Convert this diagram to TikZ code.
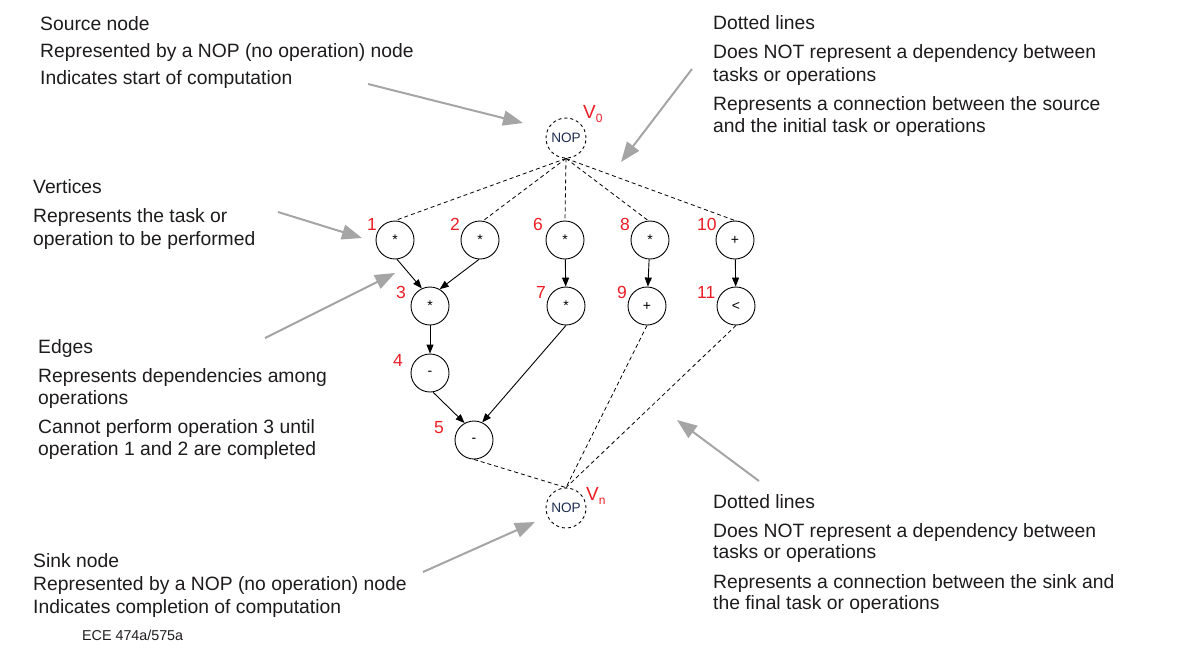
\documentclass[tikz,border=0pt]{standalone}
\usepackage{fontspec}
\setmainfont{Liberation Sans}
\usetikzlibrary{arrows.meta}
\definecolor{txt}{RGB}{30,27,28}
\definecolor{lbl}{RGB}{237,28,36}
\definecolor{garrow}{RGB}{165,165,165}
\definecolor{nopc}{RGB}{30,45,80}
\begin{document}
\begin{tikzpicture}[x=1pt,y=-1pt,
  op/.style={circle,draw,line width=0.9pt,minimum size=38pt,inner sep=0pt,font=\fontsize{14}{14}\selectfont},
  nop/.style={circle,draw,dashed,line width=0.9pt,minimum size=40pt,inner sep=0pt,font=\fontsize{13.6}{13.6}\selectfont,text=nopc},
  num/.style={anchor=base west,inner sep=0pt,text=lbl,font=\fontsize{17.5}{17.5}\selectfont},
  txtl/.style={anchor=base west,inner sep=0pt,text=txt,font=\fontsize{19.3}{19.3}\selectfont},
  small/.style={anchor=base west,inner sep=0pt,text=txt,font=\fontsize{14.3}{14.3}\selectfont},
  dep/.style={-{Triangle[length=9pt,width=7pt]},line width=0.9pt},
  dotln/.style={line width=0.8pt,dash pattern=on 4pt off 3pt},
  callout/.style={-{Triangle[length=20pt,width=15pt]},line width=2pt,draw=garrow}
]
\useasboundingbox (0,0) rectangle (1192,665);

% nodes
\node[nop] (v0) at (566,138) {NOP};
\node[nop] (vn) at (566,508) {NOP};
\node[op] (n1) at (395,240) {\raisebox{-3pt}{*}};
\node[op] (n2) at (480,240) {\raisebox{-3pt}{*}};
\node[op] (n6) at (565,240) {\raisebox{-3pt}{*}};
\node[op] (n8) at (650,240) {\raisebox{-3pt}{*}};
\node[op] (n10) at (735,240) {+};
\node[op] (n3) at (430,306) {\raisebox{-3pt}{*}};
\node[op] (n7) at (566,306) {\raisebox{-3pt}{*}};
\node[op] (n9) at (647,306) {+};
\node[op] (n11) at (736,306) {<};
\node[op] (n4) at (430,373) {-};
\node[op] (n5) at (474,440) {-};

% labels
\node[num] (l1) at (367,230) {1};
\node[num] (l2) at (450,230) {2};
\node[num] (l6) at (533,230) {6};
\node[num] (l8) at (620,230) {8};
\node[num] (l10) at (697,230) {10};
\node[num] (l3) at (396,298) {3};
\node[num] (l7) at (536,298) {7};
\node[num] (l9) at (617,298) {9};
\node[num] (l11) at (697,298) {11};
\node[num] (l4) at (393,366) {4};
\node[num] (l5) at (434,433) {5};
\node[num,font=\fontsize{19}{19}\selectfont] (lv0) at (583,118) {V\raisebox{-4pt}{\fontsize{12}{12}\selectfont 0}};
\node[num,font=\fontsize{19}{19}\selectfont] (lvn) at (586,500) {V\raisebox{-4pt}{\fontsize{12}{12}\selectfont n}};

% dependency edges
\draw[dep] (n1.-84) -- (n3.115);
\draw[dep] (n2.-93) -- (n3.60);
\draw[dep] (n3) -- (n4);
\draw[dep] (n4.-81) -- (n5.119);
\draw[dep] (n7.-90) -- (n5.65);
\draw[dep] (n6) -- (n7);
\draw[dep] (n8) -- (n9);
\draw[dep] (n10) -- (n11);

% dotted connections
\draw[dotln] (v0.south) -- (n1.north);
\draw[dotln] (v0.south) -- (n2.81);
\draw[dotln] (v0.south) -- (n6.north);
\draw[dotln] (v0.south) -- (n8.95);
\draw[dotln] (v0.south) -- (n10.north);
\draw[dotln] (n5.south) -- (vn.north);
\draw[dotln] (n9.south) -- (vn.north);
\draw[dotln] (n11.south) -- (vn.north);

% text blocks
\node[txtl] (s1) at (40,30) {Source node};
\node[txtl] (s2) at (40,57) {Represented by a NOP (no operation) node};
\node[txtl] (s3) at (40,84) {Indicates start of computation};

\node[txtl] (ve1) at (33,193) {Vertices};
\node[txtl] (ve2) at (33,222) {Represents the task or};
\node[txtl] (ve3) at (33,245) {operation to be performed};

\node[txtl] (e1) at (38,353) {Edges};
\node[txtl] (e2) at (38,382) {Represents dependencies among};
\node[txtl] (e3) at (38,404) {operations};
\node[txtl] (e4) at (38,433) {Cannot perform operation 3 until};
\node[txtl] (e5) at (38,455) {operation 1 and 2 are completed};

\node[txtl] (k1) at (33,567) {Sink node};
\node[txtl] (k2) at (33,590) {Represented by a NOP (no operation) node};
\node[txtl] (k3) at (33,613) {Indicates completion of computation};
\node[small] (ece) at (82,640) {ECE 474a/575a};

\node[txtl] (d1) at (713,29) {Dotted lines};
\node[txtl] (d2) at (713,58) {Does NOT represent a dependency between};
\node[txtl] (d3) at (713,81) {tasks or operations};
\node[txtl] (d4) at (713,110) {Represents a connection between the source};
\node[txtl] (d5) at (713,132) {and the initial task or operations};

\node[txtl] (b1) at (713,508) {Dotted lines};
\node[txtl] (b2) at (713,537) {Does NOT represent a dependency between};
\node[txtl] (b3) at (713,558) {tasks or operations};
\node[txtl] (b4) at (713,588) {Represents a connection between the sink and};
\node[txtl] (b5) at (713,609) {the final task or operations};

% callout arrows
\coordinate (c1s) at (368,84);  \coordinate (c1t) at (523,123);
\coordinate (c2s) at (692,69);  \coordinate (c2t) at (621,162);
\coordinate (c3s) at (278,212); \coordinate (c3t) at (362,238);
\coordinate (c4s) at (265,338); \coordinate (c4t) at (395,273);
\coordinate (c5s) at (759,481); \coordinate (c5t) at (677,420);
\coordinate (c6s) at (423,572); \coordinate (c6t) at (535,522);
\draw[callout] (c1s) -- (c1t);
\draw[callout] (c2s) -- (c2t);
\draw[callout] (c3s) -- (c3t);
\draw[callout] (c4s) -- (c4t);
\draw[callout] (c5s) -- (c5t);
\draw[callout] (c6s) -- (c6t);
\end{tikzpicture}
\end{document}
